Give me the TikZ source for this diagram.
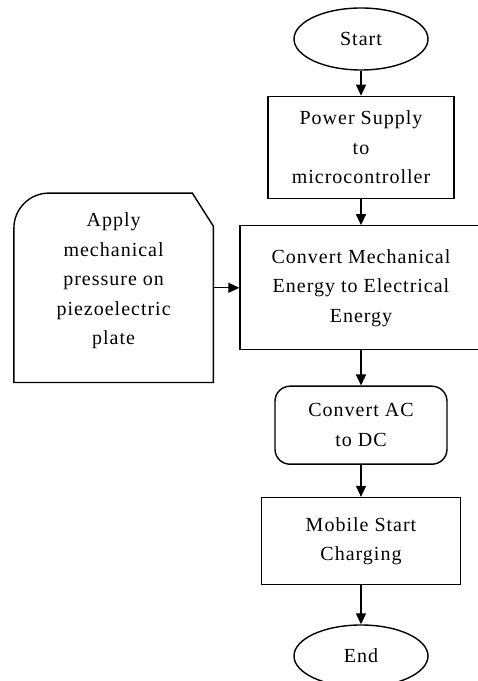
\documentclass[tikz,border=0pt]{standalone}
\usepackage{fontspec}
\setmainfont{Liberation Serif}[LetterSpace=5]
\usepackage{tikz}
\usetikzlibrary{shapes.geometric, arrows.meta, positioning, calc}

\begin{document}
\begin{tikzpicture}[
    x=1pt, y=1pt,
    node distance=25pt,
    txt/.style={font=\fontsize{20}{29.5}\selectfont, align=center, inner sep=0pt},
    box/.style={draw, txt, line width=1.4pt},
    term/.style={draw, ellipse, txt, line width=1.4pt, minimum width=134pt, minimum height=62pt},
    arr/.style={-{Triangle[length=11pt, width=10pt]}, line width=1.4pt},
]
\useasboundingbox (0,0) rectangle (478,681);
\node[term] (start) at (361,642) {Start};
\node[box, minimum width=186pt, minimum height=102pt, below=25pt of start] (power) {Power Supply\\to\\microcontroller};
\node[box, minimum width=242pt, minimum height=124pt, below=26pt of power] (mech) {Convert Mechanical\\Energy to Electrical\\Energy};
\node[box, rounded corners=15pt, minimum width=172pt, minimum height=78pt, below=35pt of mech] (acdc) {Convert AC\\to DC};
\node[box, minimum width=199pt, minimum height=87pt, below=32pt of acdc] (mobile) {Mobile Start\\Charging};
\node[term, below=39pt of mobile] (end) {End};

% manual input shape on the left
\node[txt, minimum width=199pt, minimum height=189pt, left=26pt of mech] (pressure) {};
\draw[line width=1.4pt] (pressure.south west) -- ([yshift=-35pt]pressure.north west)
    arc[start angle=180, end angle=90, radius=35pt] -- ([xshift=-21pt]pressure.north east)
    -- ([yshift=-33pt]pressure.north east) -- (pressure.south east) -- cycle;
\node[txt] (pressuretext) at ([yshift=7pt]pressure.center) {Apply\\mechanical\\pressure on\\piezoelectric\\plate};

\draw[arr] (start) -- (power);
\draw[arr] (power) -- (mech);
\draw[arr] (pressure.east) -- (mech.west);
\draw[arr] (mech) -- (acdc);
\draw[arr] (acdc) -- (mobile);
\draw[arr] (mobile) -- (end);
\end{tikzpicture}
\end{document}
